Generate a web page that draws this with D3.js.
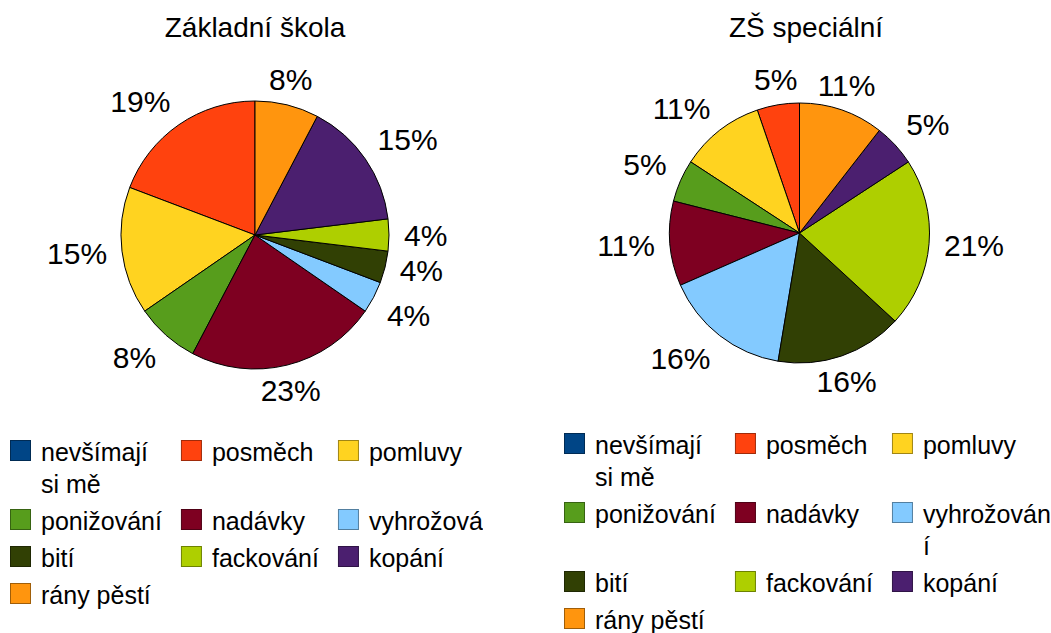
<!DOCTYPE html>
<html lang="cs">

<head>
  <title></title>
  <meta charset="UTF-8">
  <script src="https://cdn.jsdelivr.net/npm/d3@7"></script>
  <style>
    body { margin: 0; background: #fff; }
    text { font-family: "Liberation Sans", Arial, sans-serif; fill: #000; }
  </style>
</head>

<body>
  <script>
    // categories in legend order (pies run counter-clockwise from 12 o'clock in this order)
    var categories = ["nevšímají si mě", "posměch", "pomluvy", "ponižování", "nadávky",
      "vyhrožování", "bití", "fackování", "kopání", "rány pěstí"];
    var colors = ["#004586", "#ff420e", "#ffd320", "#579d1c", "#7e0021",
      "#83caff", "#314004", "#aecf00", "#4b1f6f", "#ff950e"];

    // counts read back from the percentage labels
    var zsValues = [0, 5, 4, 2, 6, 1, 1, 1, 4, 2];      // 26 answers
    var specialValues = [0, 1, 2, 1, 2, 3, 3, 4, 1, 2]; // 19 answers

    var titles = ["Základní škola", "ZŠ speciální"];

    var W = 1051, H = 633;
    var svg = d3.select("body").append("svg").attr("width", W).attr("height", H);

    var charts = [
      { title: titles[0], values: zsValues, cx: 255, cy: 235, r: 134, titleX: 255,
        legendX: 10, legendY: 440, legendMaxX: 483, breakLong: false },
      { title: titles[1], values: specialValues, cx: 799.5, cy: 233, r: 130, titleX: 806,
        legendX: 564, legendY: 433, legendMaxX: W, breakLong: true }
    ];

    var labelSize = 30, titleSize = 28, legendSize = 25;

    // helper text node for measuring
    var meas = svg.append("text").style("font-size", legendSize + "px").attr("x", -1000).attr("y", -1000);
    function textWidth(s) {
      meas.text(s);
      return meas.node().getComputedTextLength();
    }

    function wrap(label, w, breakLong) {
      var words = label.split(" "), lines = [], cur = "";
      words.forEach(function (word) {
        var test = cur ? cur + " " + word : word;
        if (textWidth(test) <= w || !cur) cur = test;
        else { lines.push(cur); cur = word; }
      });
      lines.push(cur);
      if (!breakLong) return lines;
      var out = [];
      lines.forEach(function (line) {
        var part = "";
        for (var i = 0; i < line.length; i++) {
          if (part && textWidth(part + line[i]) > w) { out.push(part); part = ""; }
          part += line[i];
        }
        out.push(part);
      });
      return out;
    }

    function drawLegend(g, c, idx) {
      var sq = 20, textOff = 31, gap = 19, lineH = 32, rowPad = 5, wrapW = 125, ncol = 3;
      var items = categories.map(function (name, i) { return { name: name, color: colors[i], col: i % ncol, row: Math.floor(i / ncol) }; });

      // columns sized to their (wrapped) text
      var colX = [c.legendX];
      for (var col = 0; col < ncol; col++) {
        var inCol = items.filter(function (d) { return d.col === col; });
        var avail = col < ncol - 1 ? wrapW : c.legendMaxX - (colX[col] + textOff);
        var maxW = 0;
        inCol.forEach(function (d) {
          d.lines = wrap(d.name, avail, c.breakLong);
          d.lines.forEach(function (l) { maxW = Math.max(maxW, textWidth(l)); });
        });
        colX.push(colX[col] + textOff + Math.min(maxW, avail) + gap);
      }

      var nrow = Math.ceil(items.length / ncol), rowY = [c.legendY];
      for (var r = 0; r < nrow; r++) {
        var n = d3.max(items.filter(function (d) { return d.row === r; }), function (d) { return d.lines.length; });
        rowY.push(rowY[r] + n * lineH + rowPad);
      }

      var clipId = "legclip" + idx;
      g.append("clipPath").attr("id", clipId).append("rect")
        .attr("x", 0).attr("y", 0).attr("width", c.legendMaxX).attr("height", H);

      var item = g.append("g").attr("clip-path", "url(#" + clipId + ")")
        .selectAll("g").data(items).join("g")
        .attr("transform", function (d) { return "translate(" + colX[d.col] + "," + rowY[d.row] + ")"; });

      item.append("rect").attr("x", 0.5).attr("y", 0.5).attr("width", sq).attr("height", sq)
        .attr("fill", function (d) { return d.color; })
        .attr("stroke", function (d) { return d3.color(d.color).darker(1.3); })
        .attr("stroke-width", 1);

      item.append("text").style("font-size", legendSize + "px")
        .selectAll("tspan").data(function (d) { return d.lines; }).join("tspan")
        .attr("x", textOff).attr("y", function (d, i) { return 21 + i * lineH; })
        .text(function (d) { return d; });
    }

    charts.forEach(function (c, idx) {
      var g = svg.append("g");

      g.append("text").attr("x", c.titleX).attr("y", 37).attr("text-anchor", "middle")
        .style("font-size", titleSize + "px").text(c.title);

      var pie = d3.pie().sort(null).startAngle(0).endAngle(-2 * Math.PI);
      var arcs = pie(c.values).map(function (d, i) { d.color = colors[i]; return d; })
        .filter(function (d) { return d.value > 0; });
      var arc = d3.arc().innerRadius(0).outerRadius(c.r);
      var total = d3.sum(c.values);

      var pg = g.append("g").attr("transform", "translate(" + c.cx + "," + c.cy + ")");
      pg.selectAll("path").data(arcs).join("path")
        .attr("d", arc)
        .attr("fill", function (d) { return d.color; })
        .attr("stroke", "#000").attr("stroke-width", 1).attr("stroke-linejoin", "round");

      // labels outside, aligned by the direction of the slice middle
      var capH = 0.716 * labelSize, off = 15;
      pg.selectAll("text").data(arcs).join("text")
        .style("font-size", labelSize + "px")
        .each(function (d) {
          var a = (d.startAngle + d.endAngle) / 2, s = Math.sin(a), co = Math.cos(a);
          var x = (c.r + off) * s, y = -(c.r + off) * co;
          var anchor = s > 0.38 ? "start" : s < -0.38 ? "end" : "middle";
          var by = co > 0.38 ? y : co < -0.38 ? y + capH : y + capH / 2;
          d3.select(this).attr("x", x).attr("y", by).attr("text-anchor", anchor)
            .text(Math.round(d.value / total * 100) + "%");
        });

      drawLegend(g, c, idx);
    });

    meas.remove();
  </script>
</body>

</html>
